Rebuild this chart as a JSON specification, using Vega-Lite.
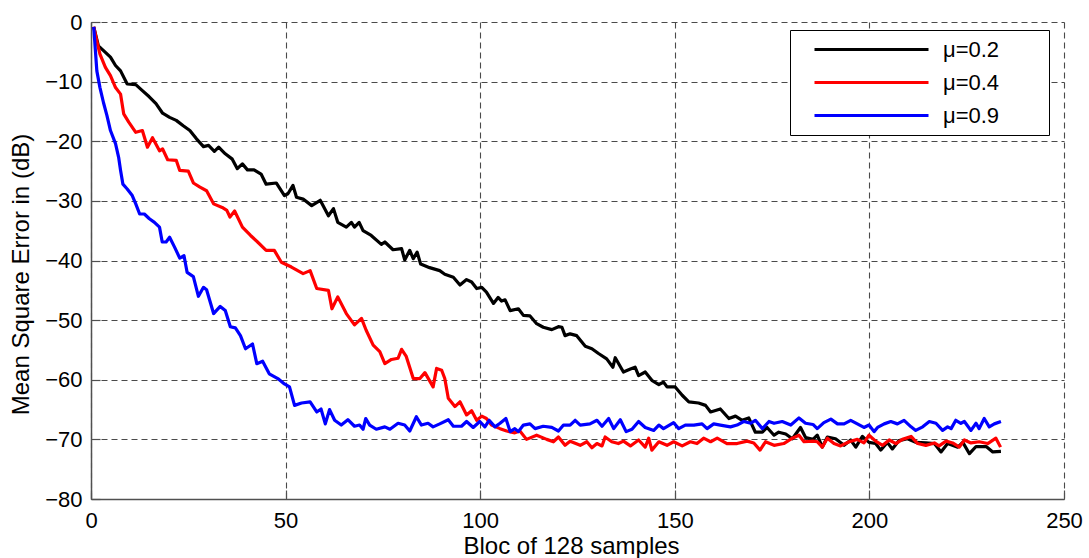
{
  "$schema": "https://vega.github.io/schema/vega-lite/v6.json",
  "width": 973,
  "height": 477,
  "autosize": {"type": "none"},
  "padding": {"left": 91, "top": 22, "right": 25, "bottom": 59},
  "background": "white",
  "config": {
    "font": "Liberation Sans",
    "view": {"stroke": null},
    "axis": {
      "domainColor": "#505050",
      "domainWidth": 1.5,
      "gridColor": "#4a4a4a",
      "gridDash": [6, 4],
      "gridWidth": 1.1,
      "tickColor": "#505050",
      "tickWidth": 1.2,
      "tickSize": -9,
      "labelFontSize": 22,
      "labelColor": "#000000",
      "labelFlush": false,
      "titleFontSize": 24,
      "titleFontWeight": "normal",
      "titleColor": "#000000"
    }
  },
  "datasets": {
    "mse": [
      {"b":0.7,"e":-0.8,"m":"μ=0.2"},{"b":1.9,"e":-4,"m":"μ=0.2"},{"b":3.7,"e":-5.1,"m":"μ=0.2"},{"b":5,"e":-5.9,"m":"μ=0.2"},{"b":6.3,"e":-7.3,"m":"μ=0.2"},{"b":7.6,"e":-8.2,"m":"μ=0.2"},{"b":9.3,"e":-10.4,"m":"μ=0.2"},{"b":11.5,"e":-10.5,"m":"μ=0.2"},{"b":13.2,"e":-11.5,"m":"μ=0.2"},{"b":14.9,"e":-12.5,"m":"μ=0.2"},{"b":16.7,"e":-13.7,"m":"μ=0.2"},{"b":18.4,"e":-15.3,"m":"μ=0.2"},{"b":20.2,"e":-16,"m":"μ=0.2"},{"b":21.9,"e":-16.5,"m":"μ=0.2"},{"b":23.7,"e":-17.4,"m":"μ=0.2"},{"b":25.4,"e":-18.2,"m":"μ=0.2"},{"b":27.1,"e":-19.6,"m":"μ=0.2"},{"b":28.9,"e":-20.9,"m":"μ=0.2"},{"b":30.2,"e":-20.7,"m":"μ=0.2"},{"b":31.7,"e":-21.7,"m":"μ=0.2"},{"b":32.8,"e":-21,"m":"μ=0.2"},{"b":34.5,"e":-22.1,"m":"μ=0.2"},{"b":36.3,"e":-23,"m":"μ=0.2"},{"b":37.6,"e":-24.6,"m":"μ=0.2"},{"b":38.9,"e":-23.8,"m":"μ=0.2"},{"b":40.2,"e":-24.8,"m":"μ=0.2"},{"b":41.9,"e":-24.8,"m":"μ=0.2"},{"b":43.7,"e":-25.5,"m":"μ=0.2"},{"b":45,"e":-27.2,"m":"μ=0.2"},{"b":47.6,"e":-27,"m":"μ=0.2"},{"b":49.7,"e":-29.1,"m":"μ=0.2"},{"b":50.6,"e":-28.8,"m":"μ=0.2"},{"b":51.9,"e":-27.4,"m":"μ=0.2"},{"b":52.8,"e":-29.4,"m":"μ=0.2"},{"b":54.5,"e":-29.7,"m":"μ=0.2"},{"b":56.7,"e":-30.8,"m":"μ=0.2"},{"b":58.9,"e":-29.9,"m":"μ=0.2"},{"b":61,"e":-32.5,"m":"μ=0.2"},{"b":62.3,"e":-31.3,"m":"μ=0.2"},{"b":63.4,"e":-33.6,"m":"μ=0.2"},{"b":65.6,"e":-34.4,"m":"μ=0.2"},{"b":66.9,"e":-33.6,"m":"μ=0.2"},{"b":67.7,"e":-34.4,"m":"μ=0.2"},{"b":68.9,"e":-33.6,"m":"μ=0.2"},{"b":69.9,"e":-35,"m":"μ=0.2"},{"b":72,"e":-35.8,"m":"μ=0.2"},{"b":74.6,"e":-37.3,"m":"μ=0.2"},{"b":75.5,"e":-36.9,"m":"μ=0.2"},{"b":77.6,"e":-38.2,"m":"μ=0.2"},{"b":79.8,"e":-38,"m":"μ=0.2"},{"b":80.6,"e":-39.9,"m":"μ=0.2"},{"b":81.9,"e":-38.3,"m":"μ=0.2"},{"b":82.8,"e":-39.7,"m":"μ=0.2"},{"b":83.8,"e":-38.6,"m":"μ=0.2"},{"b":84.7,"e":-40.6,"m":"μ=0.2"},{"b":87,"e":-41.2,"m":"μ=0.2"},{"b":89.6,"e":-41.7,"m":"μ=0.2"},{"b":90.9,"e":-42.3,"m":"μ=0.2"},{"b":93.1,"e":-42.8,"m":"μ=0.2"},{"b":94.8,"e":-44.1,"m":"μ=0.2"},{"b":96.5,"e":-43.2,"m":"μ=0.2"},{"b":97.8,"e":-43.6,"m":"μ=0.2"},{"b":99.1,"e":-44.7,"m":"μ=0.2"},{"b":100.4,"e":-44.5,"m":"μ=0.2"},{"b":101.6,"e":-45.3,"m":"μ=0.2"},{"b":103.4,"e":-47.2,"m":"μ=0.2"},{"b":104.6,"e":-46.2,"m":"μ=0.2"},{"b":105.5,"e":-46.8,"m":"μ=0.2"},{"b":106.4,"e":-46.6,"m":"μ=0.2"},{"b":107.7,"e":-48.4,"m":"μ=0.2"},{"b":109.8,"e":-48.1,"m":"μ=0.2"},{"b":111.1,"e":-49.2,"m":"μ=0.2"},{"b":112.8,"e":-49.3,"m":"μ=0.2"},{"b":114.5,"e":-50.6,"m":"μ=0.2"},{"b":116.2,"e":-51.2,"m":"μ=0.2"},{"b":118.4,"e":-51.6,"m":"μ=0.2"},{"b":120.1,"e":-51.1,"m":"μ=0.2"},{"b":121,"e":-51.2,"m":"μ=0.2"},{"b":121.8,"e":-52.6,"m":"μ=0.2"},{"b":123.1,"e":-52.3,"m":"μ=0.2"},{"b":124.8,"e":-52.6,"m":"μ=0.2"},{"b":127,"e":-54.4,"m":"μ=0.2"},{"b":128.7,"e":-54.8,"m":"μ=0.2"},{"b":130.4,"e":-55.6,"m":"μ=0.2"},{"b":132.5,"e":-56.5,"m":"μ=0.2"},{"b":134.1,"e":-57.9,"m":"μ=0.2"},{"b":134.7,"e":-56.3,"m":"μ=0.2"},{"b":136.8,"e":-58.7,"m":"μ=0.2"},{"b":138.6,"e":-58.2,"m":"μ=0.2"},{"b":139.8,"e":-57.9,"m":"μ=0.2"},{"b":140.7,"e":-59.3,"m":"μ=0.2"},{"b":142.4,"e":-58.7,"m":"μ=0.2"},{"b":144.1,"e":-60.1,"m":"μ=0.2"},{"b":145.9,"e":-60.8,"m":"μ=0.2"},{"b":147.1,"e":-60.4,"m":"μ=0.2"},{"b":148,"e":-61.2,"m":"μ=0.2"},{"b":150.1,"e":-61.2,"m":"μ=0.2"},{"b":151.9,"e":-62.6,"m":"μ=0.2"},{"b":153.6,"e":-63.7,"m":"μ=0.2"},{"b":156.1,"e":-63.9,"m":"μ=0.2"},{"b":157.9,"e":-64.3,"m":"μ=0.2"},{"b":159.2,"e":-65.4,"m":"μ=0.2"},{"b":161.7,"e":-64.9,"m":"μ=0.2"},{"b":163.9,"e":-66.5,"m":"μ=0.2"},{"b":165.6,"e":-66.1,"m":"μ=0.2"},{"b":167.3,"e":-66.8,"m":"μ=0.2"},{"b":169,"e":-66.4,"m":"μ=0.2"},{"b":170.7,"e":-68.8,"m":"μ=0.2"},{"b":172.5,"e":-68.8,"m":"μ=0.2"},{"b":173.7,"e":-68,"m":"μ=0.2"},{"b":175.5,"e":-69.3,"m":"μ=0.2"},{"b":176.7,"e":-68.8,"m":"μ=0.2"},{"b":178.5,"e":-69.1,"m":"μ=0.2"},{"b":180.2,"e":-69.9,"m":"μ=0.2"},{"b":182.3,"e":-68,"m":"μ=0.2"},{"b":183.6,"e":-69.7,"m":"μ=0.2"},{"b":185.5,"e":-70,"m":"μ=0.2"},{"b":186.6,"e":-69.3,"m":"μ=0.2"},{"b":187.9,"e":-71.3,"m":"μ=0.2"},{"b":189.2,"e":-69.6,"m":"μ=0.2"},{"b":191.3,"e":-69.9,"m":"μ=0.2"},{"b":193.5,"e":-71,"m":"μ=0.2"},{"b":195.2,"e":-70.1,"m":"μ=0.2"},{"b":196.5,"e":-71.3,"m":"μ=0.2"},{"b":198.2,"e":-69.5,"m":"μ=0.2"},{"b":199.9,"e":-70.5,"m":"μ=0.2"},{"b":201.6,"e":-70.7,"m":"μ=0.2"},{"b":202.9,"e":-71.8,"m":"μ=0.2"},{"b":204.6,"e":-70.5,"m":"μ=0.2"},{"b":205.9,"e":-71.6,"m":"μ=0.2"},{"b":207.6,"e":-70.2,"m":"μ=0.2"},{"b":209.8,"e":-69.9,"m":"μ=0.2"},{"b":211.9,"e":-70.5,"m":"μ=0.2"},{"b":214.5,"e":-70.6,"m":"μ=0.2"},{"b":216.7,"e":-70.7,"m":"μ=0.2"},{"b":218.4,"e":-72.1,"m":"μ=0.2"},{"b":220.1,"e":-70.7,"m":"μ=0.2"},{"b":222.7,"e":-71.3,"m":"μ=0.2"},{"b":224,"e":-70.5,"m":"μ=0.2"},{"b":225.7,"e":-72.4,"m":"μ=0.2"},{"b":227.4,"e":-71.2,"m":"μ=0.2"},{"b":230,"e":-71.2,"m":"μ=0.2"},{"b":231.7,"e":-72.1,"m":"μ=0.2"},{"b":233.8,"e":-72,"m":"μ=0.2"},
      {"b":0.7,"e":-0.8,"m":"μ=0.4"},{"b":1.6,"e":-3.5,"m":"μ=0.4"},{"b":2.3,"e":-5.4,"m":"μ=0.4"},{"b":3.7,"e":-7.6,"m":"μ=0.4"},{"b":5,"e":-9,"m":"μ=0.4"},{"b":6.3,"e":-11,"m":"μ=0.4"},{"b":7.6,"e":-12.1,"m":"μ=0.4"},{"b":8.4,"e":-15.4,"m":"μ=0.4"},{"b":9.7,"e":-16.8,"m":"μ=0.4"},{"b":11.5,"e":-18.5,"m":"μ=0.4"},{"b":13.2,"e":-18.2,"m":"μ=0.4"},{"b":14.5,"e":-21,"m":"μ=0.4"},{"b":15.8,"e":-19.4,"m":"μ=0.4"},{"b":17.6,"e":-21.6,"m":"μ=0.4"},{"b":18.4,"e":-21.3,"m":"μ=0.4"},{"b":19.7,"e":-23.1,"m":"μ=0.4"},{"b":21.9,"e":-23.2,"m":"μ=0.4"},{"b":22.8,"e":-24.9,"m":"μ=0.4"},{"b":25,"e":-25,"m":"μ=0.4"},{"b":26.3,"e":-27,"m":"μ=0.4"},{"b":28,"e":-27.7,"m":"μ=0.4"},{"b":29.7,"e":-28.3,"m":"μ=0.4"},{"b":31.5,"e":-30.5,"m":"μ=0.4"},{"b":33.7,"e":-31.1,"m":"μ=0.4"},{"b":34.9,"e":-31.6,"m":"μ=0.4"},{"b":35.7,"e":-32.7,"m":"μ=0.4"},{"b":36.9,"e":-31.7,"m":"μ=0.4"},{"b":38.9,"e":-34.4,"m":"μ=0.4"},{"b":41,"e":-35.8,"m":"μ=0.4"},{"b":42.8,"e":-36.9,"m":"μ=0.4"},{"b":45,"e":-38.3,"m":"μ=0.4"},{"b":47.1,"e":-38.3,"m":"μ=0.4"},{"b":48.9,"e":-40.3,"m":"μ=0.4"},{"b":51.5,"e":-41.1,"m":"μ=0.4"},{"b":54.5,"e":-42.2,"m":"μ=0.4"},{"b":56.3,"e":-41.7,"m":"μ=0.4"},{"b":58,"e":-44.7,"m":"μ=0.4"},{"b":61,"e":-45,"m":"μ=0.4"},{"b":61.9,"e":-48.1,"m":"μ=0.4"},{"b":63.4,"e":-46.1,"m":"μ=0.4"},{"b":65.6,"e":-48.9,"m":"μ=0.4"},{"b":67.7,"e":-50.8,"m":"μ=0.4"},{"b":69.5,"e":-49.7,"m":"μ=0.4"},{"b":70.7,"e":-51.7,"m":"μ=0.4"},{"b":72.5,"e":-54.2,"m":"μ=0.4"},{"b":74.2,"e":-55.3,"m":"μ=0.4"},{"b":75.5,"e":-57.3,"m":"μ=0.4"},{"b":77.2,"e":-56.6,"m":"μ=0.4"},{"b":78.9,"e":-56.4,"m":"μ=0.4"},{"b":79.8,"e":-54.9,"m":"μ=0.4"},{"b":81,"e":-56.1,"m":"μ=0.4"},{"b":82.8,"e":-59.8,"m":"μ=0.4"},{"b":84.5,"e":-59.8,"m":"μ=0.4"},{"b":85.8,"e":-58.8,"m":"μ=0.4"},{"b":87.9,"e":-61.2,"m":"μ=0.4"},{"b":88.8,"e":-58.1,"m":"μ=0.4"},{"b":90.1,"e":-58.4,"m":"μ=0.4"},{"b":90.9,"e":-59.8,"m":"μ=0.4"},{"b":91.8,"e":-63.1,"m":"μ=0.4"},{"b":93.5,"e":-64.5,"m":"μ=0.4"},{"b":94.8,"e":-63.7,"m":"μ=0.4"},{"b":96.5,"e":-65.9,"m":"μ=0.4"},{"b":97.8,"e":-65.2,"m":"μ=0.4"},{"b":99.1,"e":-66.8,"m":"μ=0.4"},{"b":100.4,"e":-66.1,"m":"μ=0.4"},{"b":101.6,"e":-66.5,"m":"μ=0.4"},{"b":102.9,"e":-67.6,"m":"μ=0.4"},{"b":105.1,"e":-68.2,"m":"μ=0.4"},{"b":106.8,"e":-68.6,"m":"μ=0.4"},{"b":108.9,"e":-68.9,"m":"μ=0.4"},{"b":110.2,"e":-68.6,"m":"μ=0.4"},{"b":111.9,"e":-70,"m":"μ=0.4"},{"b":114.5,"e":-69.3,"m":"μ=0.4"},{"b":117.1,"e":-70,"m":"μ=0.4"},{"b":118.8,"e":-70.4,"m":"μ=0.4"},{"b":120.1,"e":-69.6,"m":"μ=0.4"},{"b":121.8,"e":-71,"m":"μ=0.4"},{"b":123.1,"e":-70.3,"m":"μ=0.4"},{"b":125.7,"e":-71,"m":"μ=0.4"},{"b":127.4,"e":-70.4,"m":"μ=0.4"},{"b":128.7,"e":-71.4,"m":"μ=0.4"},{"b":130,"e":-70.7,"m":"μ=0.4"},{"b":131.3,"e":-71.1,"m":"μ=0.4"},{"b":132.1,"e":-69.6,"m":"μ=0.4"},{"b":133.8,"e":-70.4,"m":"μ=0.4"},{"b":135.5,"e":-70.7,"m":"μ=0.4"},{"b":136.8,"e":-70.3,"m":"μ=0.4"},{"b":138.6,"e":-71.1,"m":"μ=0.4"},{"b":140.7,"e":-70.1,"m":"μ=0.4"},{"b":142.4,"e":-71.3,"m":"μ=0.4"},{"b":143.3,"e":-69.8,"m":"μ=0.4"},{"b":144.1,"e":-71.8,"m":"μ=0.4"},{"b":145.9,"e":-70.4,"m":"μ=0.4"},{"b":148,"e":-71,"m":"μ=0.4"},{"b":149.7,"e":-70.4,"m":"μ=0.4"},{"b":151.9,"e":-71.1,"m":"μ=0.4"},{"b":154,"e":-70.4,"m":"μ=0.4"},{"b":155.7,"e":-70.7,"m":"μ=0.4"},{"b":157.4,"e":-69.8,"m":"μ=0.4"},{"b":159.2,"e":-70.4,"m":"μ=0.4"},{"b":160.9,"e":-69.8,"m":"μ=0.4"},{"b":163.4,"e":-70.7,"m":"μ=0.4"},{"b":166,"e":-70.7,"m":"μ=0.4"},{"b":168.6,"e":-70.3,"m":"μ=0.4"},{"b":170.3,"e":-70.6,"m":"μ=0.4"},{"b":171.9,"e":-71.8,"m":"μ=0.4"},{"b":173.3,"e":-70.4,"m":"μ=0.4"},{"b":175.5,"e":-71,"m":"μ=0.4"},{"b":178,"e":-70.7,"m":"μ=0.4"},{"b":180.2,"e":-69.8,"m":"μ=0.4"},{"b":181.9,"e":-69.3,"m":"μ=0.4"},{"b":183.2,"e":-70.4,"m":"μ=0.4"},{"b":185.5,"e":-70.3,"m":"μ=0.4"},{"b":186.6,"e":-70.4,"m":"μ=0.4"},{"b":187.9,"e":-71.3,"m":"μ=0.4"},{"b":189.2,"e":-69.8,"m":"μ=0.4"},{"b":190.9,"e":-70.7,"m":"μ=0.4"},{"b":192.6,"e":-71.1,"m":"μ=0.4"},{"b":194.8,"e":-70.4,"m":"μ=0.4"},{"b":196.9,"e":-70,"m":"μ=0.4"},{"b":198.6,"e":-70.6,"m":"μ=0.4"},{"b":199.9,"e":-69.3,"m":"μ=0.4"},{"b":201.6,"e":-70.3,"m":"μ=0.4"},{"b":203.4,"e":-71,"m":"μ=0.4"},{"b":205.1,"e":-70.1,"m":"μ=0.4"},{"b":206.8,"e":-70.7,"m":"μ=0.4"},{"b":208.5,"e":-70,"m":"μ=0.4"},{"b":210.7,"e":-69.5,"m":"μ=0.4"},{"b":212.4,"e":-70.7,"m":"μ=0.4"},{"b":214.5,"e":-71,"m":"μ=0.4"},{"b":216.7,"e":-70.6,"m":"μ=0.4"},{"b":217.9,"e":-71.1,"m":"μ=0.4"},{"b":219.7,"e":-70.3,"m":"μ=0.4"},{"b":221.4,"e":-70.6,"m":"μ=0.4"},{"b":223.1,"e":-71.3,"m":"μ=0.4"},{"b":224.4,"e":-70.1,"m":"μ=0.4"},{"b":226.1,"e":-70.6,"m":"μ=0.4"},{"b":228.2,"e":-70.4,"m":"μ=0.4"},{"b":230.4,"e":-70.7,"m":"μ=0.4"},{"b":232.5,"e":-69.8,"m":"μ=0.4"},{"b":233.7,"e":-71.3,"m":"μ=0.4"},
      {"b":0.7,"e":-0.8,"m":"μ=0.9"},{"b":1.5,"e":-8.2,"m":"μ=0.9"},{"b":2.3,"e":-11,"m":"μ=0.9"},{"b":3.2,"e":-13.5,"m":"μ=0.9"},{"b":4.1,"e":-15.7,"m":"μ=0.9"},{"b":5,"e":-18.2,"m":"μ=0.9"},{"b":6.3,"e":-20.4,"m":"μ=0.9"},{"b":7.1,"e":-22.7,"m":"μ=0.9"},{"b":7.6,"e":-24.9,"m":"μ=0.9"},{"b":8.2,"e":-27.2,"m":"μ=0.9"},{"b":9.3,"e":-28,"m":"μ=0.9"},{"b":10.6,"e":-29.1,"m":"μ=0.9"},{"b":11.5,"e":-30.5,"m":"μ=0.9"},{"b":12.5,"e":-32.2,"m":"μ=0.9"},{"b":13.7,"e":-32.2,"m":"μ=0.9"},{"b":15,"e":-33,"m":"μ=0.9"},{"b":16.3,"e":-33.6,"m":"μ=0.9"},{"b":17.6,"e":-34.4,"m":"μ=0.9"},{"b":18.3,"e":-36.9,"m":"μ=0.9"},{"b":19.3,"e":-36.9,"m":"μ=0.9"},{"b":20.2,"e":-36.1,"m":"μ=0.9"},{"b":21.5,"e":-37.8,"m":"μ=0.9"},{"b":22.8,"e":-39.6,"m":"μ=0.9"},{"b":23.9,"e":-39.2,"m":"μ=0.9"},{"b":24.7,"e":-42,"m":"μ=0.9"},{"b":26.3,"e":-42.7,"m":"μ=0.9"},{"b":27.6,"e":-46,"m":"μ=0.9"},{"b":28.9,"e":-44.5,"m":"μ=0.9"},{"b":29.7,"e":-44.9,"m":"μ=0.9"},{"b":31.5,"e":-48.9,"m":"μ=0.9"},{"b":33.2,"e":-47.7,"m":"μ=0.9"},{"b":34.5,"e":-48.4,"m":"μ=0.9"},{"b":35.8,"e":-51.1,"m":"μ=0.9"},{"b":37.1,"e":-51.3,"m":"μ=0.9"},{"b":38.4,"e":-52.6,"m":"μ=0.9"},{"b":39.7,"e":-54.8,"m":"μ=0.9"},{"b":41.5,"e":-54,"m":"μ=0.9"},{"b":42.6,"e":-57.3,"m":"μ=0.9"},{"b":44.1,"e":-56.9,"m":"μ=0.9"},{"b":45.8,"e":-59,"m":"μ=0.9"},{"b":48,"e":-59.8,"m":"μ=0.9"},{"b":49.7,"e":-60.7,"m":"μ=0.9"},{"b":51,"e":-61.2,"m":"μ=0.9"},{"b":52.3,"e":-64.3,"m":"μ=0.9"},{"b":54.1,"e":-63.9,"m":"μ=0.9"},{"b":56.3,"e":-63.7,"m":"μ=0.9"},{"b":58,"e":-65.4,"m":"μ=0.9"},{"b":59.1,"e":-64.9,"m":"μ=0.9"},{"b":60.2,"e":-67.4,"m":"μ=0.9"},{"b":61.3,"e":-65,"m":"μ=0.9"},{"b":62.6,"e":-66.8,"m":"μ=0.9"},{"b":64.3,"e":-67.6,"m":"μ=0.9"},{"b":66,"e":-66.7,"m":"μ=0.9"},{"b":67.7,"e":-67.8,"m":"μ=0.9"},{"b":69,"e":-67.6,"m":"μ=0.9"},{"b":69.9,"e":-68.3,"m":"μ=0.9"},{"b":70.6,"e":-66.5,"m":"μ=0.9"},{"b":71.6,"e":-67.6,"m":"μ=0.9"},{"b":73.3,"e":-68.3,"m":"μ=0.9"},{"b":75.5,"e":-67.9,"m":"μ=0.9"},{"b":76.8,"e":-68.3,"m":"μ=0.9"},{"b":78.9,"e":-67.3,"m":"μ=0.9"},{"b":80.6,"e":-67.6,"m":"μ=0.9"},{"b":81.9,"e":-68.6,"m":"μ=0.9"},{"b":83.6,"e":-66.2,"m":"μ=0.9"},{"b":84.9,"e":-67.6,"m":"μ=0.9"},{"b":86.6,"e":-67.3,"m":"μ=0.9"},{"b":87.9,"e":-67.9,"m":"μ=0.9"},{"b":89.6,"e":-67.4,"m":"μ=0.9"},{"b":91.8,"e":-66.7,"m":"μ=0.9"},{"b":93.1,"e":-67.8,"m":"μ=0.9"},{"b":95.2,"e":-67.8,"m":"μ=0.9"},{"b":96.5,"e":-67,"m":"μ=0.9"},{"b":98.2,"e":-68,"m":"μ=0.9"},{"b":99.9,"e":-67,"m":"μ=0.9"},{"b":101.2,"e":-67.9,"m":"μ=0.9"},{"b":102.3,"e":-66.8,"m":"μ=0.9"},{"b":103.8,"e":-67.9,"m":"μ=0.9"},{"b":105.1,"e":-67.3,"m":"μ=0.9"},{"b":106.6,"e":-66.5,"m":"μ=0.9"},{"b":107.7,"e":-68.7,"m":"μ=0.9"},{"b":108.9,"e":-68.2,"m":"μ=0.9"},{"b":109.8,"e":-68.7,"m":"μ=0.9"},{"b":111.1,"e":-67.6,"m":"μ=0.9"},{"b":112.8,"e":-67.4,"m":"μ=0.9"},{"b":114.1,"e":-68.2,"m":"μ=0.9"},{"b":116.2,"e":-67.8,"m":"μ=0.9"},{"b":118.4,"e":-68,"m":"μ=0.9"},{"b":120.1,"e":-68.6,"m":"μ=0.9"},{"b":121.4,"e":-67.6,"m":"μ=0.9"},{"b":123.1,"e":-67.6,"m":"μ=0.9"},{"b":124.4,"e":-66.8,"m":"μ=0.9"},{"b":125.7,"e":-67.6,"m":"μ=0.9"},{"b":128.2,"e":-67.4,"m":"μ=0.9"},{"b":130,"e":-66.8,"m":"μ=0.9"},{"b":131.3,"e":-67.8,"m":"μ=0.9"},{"b":133,"e":-66.5,"m":"μ=0.9"},{"b":134.3,"e":-68.2,"m":"μ=0.9"},{"b":136,"e":-66.7,"m":"μ=0.9"},{"b":137.5,"e":-68.7,"m":"μ=0.9"},{"b":139,"e":-68.3,"m":"μ=0.9"},{"b":140.7,"e":-67,"m":"μ=0.9"},{"b":142.4,"e":-68,"m":"μ=0.9"},{"b":144.6,"e":-68.5,"m":"μ=0.9"},{"b":145.9,"e":-67.6,"m":"μ=0.9"},{"b":147.1,"e":-68.2,"m":"μ=0.9"},{"b":149.7,"e":-67.2,"m":"μ=0.9"},{"b":151,"e":-68.2,"m":"μ=0.9"},{"b":152.7,"e":-67.6,"m":"μ=0.9"},{"b":154.9,"e":-67.6,"m":"μ=0.9"},{"b":157,"e":-67.4,"m":"μ=0.9"},{"b":158.3,"e":-68.2,"m":"μ=0.9"},{"b":160,"e":-67.4,"m":"μ=0.9"},{"b":161.7,"e":-67.6,"m":"μ=0.9"},{"b":164.3,"e":-67.9,"m":"μ=0.9"},{"b":166,"e":-67.6,"m":"μ=0.9"},{"b":167.7,"e":-67,"m":"μ=0.9"},{"b":169.5,"e":-67.3,"m":"μ=0.9"},{"b":170.7,"e":-66.8,"m":"μ=0.9"},{"b":172.5,"e":-68.2,"m":"μ=0.9"},{"b":174.2,"e":-67,"m":"μ=0.9"},{"b":175.5,"e":-67.3,"m":"μ=0.9"},{"b":177.6,"e":-67,"m":"μ=0.9"},{"b":179.8,"e":-67.6,"m":"μ=0.9"},{"b":181.9,"e":-66.4,"m":"μ=0.9"},{"b":183.6,"e":-67.3,"m":"μ=0.9"},{"b":185.5,"e":-67.5,"m":"μ=0.9"},{"b":186.6,"e":-68.2,"m":"μ=0.9"},{"b":188.3,"e":-67.2,"m":"μ=0.9"},{"b":190.1,"e":-66.6,"m":"μ=0.9"},{"b":191.8,"e":-67.4,"m":"μ=0.9"},{"b":193.5,"e":-67.4,"m":"μ=0.9"},{"b":195.2,"e":-66.8,"m":"μ=0.9"},{"b":196.9,"e":-67.4,"m":"μ=0.9"},{"b":198.6,"e":-68,"m":"μ=0.9"},{"b":199.9,"e":-67.6,"m":"μ=0.9"},{"b":201.2,"e":-68.7,"m":"μ=0.9"},{"b":202.1,"e":-68,"m":"μ=0.9"},{"b":203.8,"e":-67.4,"m":"μ=0.9"},{"b":205.5,"e":-67,"m":"μ=0.9"},{"b":207.2,"e":-67.4,"m":"μ=0.9"},{"b":208.9,"e":-66.8,"m":"μ=0.9"},{"b":210.7,"e":-67.9,"m":"μ=0.9"},{"b":211.9,"e":-68.5,"m":"μ=0.9"},{"b":213.7,"e":-67.9,"m":"μ=0.9"},{"b":215.4,"e":-67,"m":"μ=0.9"},{"b":217.1,"e":-67.3,"m":"μ=0.9"},{"b":218.8,"e":-68.5,"m":"μ=0.9"},{"b":220.1,"e":-67.9,"m":"μ=0.9"},{"b":221,"e":-68.2,"m":"μ=0.9"},{"b":222.2,"e":-66.8,"m":"μ=0.9"},{"b":223.5,"e":-67.3,"m":"μ=0.9"},{"b":224.4,"e":-67,"m":"μ=0.9"},{"b":226.1,"e":-68.5,"m":"μ=0.9"},{"b":227.4,"e":-67.3,"m":"μ=0.9"},{"b":228.2,"e":-68.2,"m":"μ=0.9"},{"b":229.5,"e":-66.5,"m":"μ=0.9"},{"b":230.8,"e":-67.9,"m":"μ=0.9"},{"b":232.1,"e":-67.4,"m":"μ=0.9"},{"b":233.8,"e":-67,"m":"μ=0.9"}
    ]
  },
  "data": {"name": "mse"},
  "mark": {"type": "line", "strokeWidth": 3.2, "strokeJoin": "round"},
  "encoding": {
    "x": {
      "field": "b",
      "type": "quantitative",
      "scale": {"domain": [0, 250], "nice": false, "zero": false},
      "axis": {
        "title": "Bloc of 128 samples",
        "values": [0, 50, 100, 150, 200, 250],
        "labelPadding": 20,
        "titleX": 480,
        "titleY": 54,
        "titleBaseline": "alphabetic"
      }
    },
    "y": {
      "field": "e",
      "type": "quantitative",
      "scale": {"domain": [-80, 0], "nice": false, "zero": false},
      "axis": {
        "title": "Mean Square Error in (dB)",
        "values": [-80, -70, -60, -50, -40, -30, -20, -10, 0],
        "labelPadding": 18,
        "titleX": -63,
        "titleY": 252,
        "titleBaseline": "alphabetic",
        "titleAngle": -90
      }
    },
    "color": {
      "field": "m",
      "type": "nominal",
      "scale": {"domain": ["μ=0.2", "μ=0.4", "μ=0.9"], "range": ["#000000", "#ff0000", "#0000ff"]},
      "legend": {
        "title": "\u00a0",
        "titleOrient": "right",
        "titlePadding": 43,
        "titleFontSize": 22,
        "orient": "none",
        "legendX": 699,
        "legendY": 8,
        "symbolType": "stroke",
        "symbolSize": 12996,
        "symbolStrokeWidth": 3,
        "clipHeight": 26,
        "rowPadding": 7,
        "padding": 6.5,
        "symbolOffset": 16.5,
        "labelOffset": 13,
        "labelFontSize": 22,
        "labelColor": "#000000",
        "labelLimit": 400,
        "strokeColor": "#000000",
        "fillColor": "#ffffff"
      }
    }
  }
}
